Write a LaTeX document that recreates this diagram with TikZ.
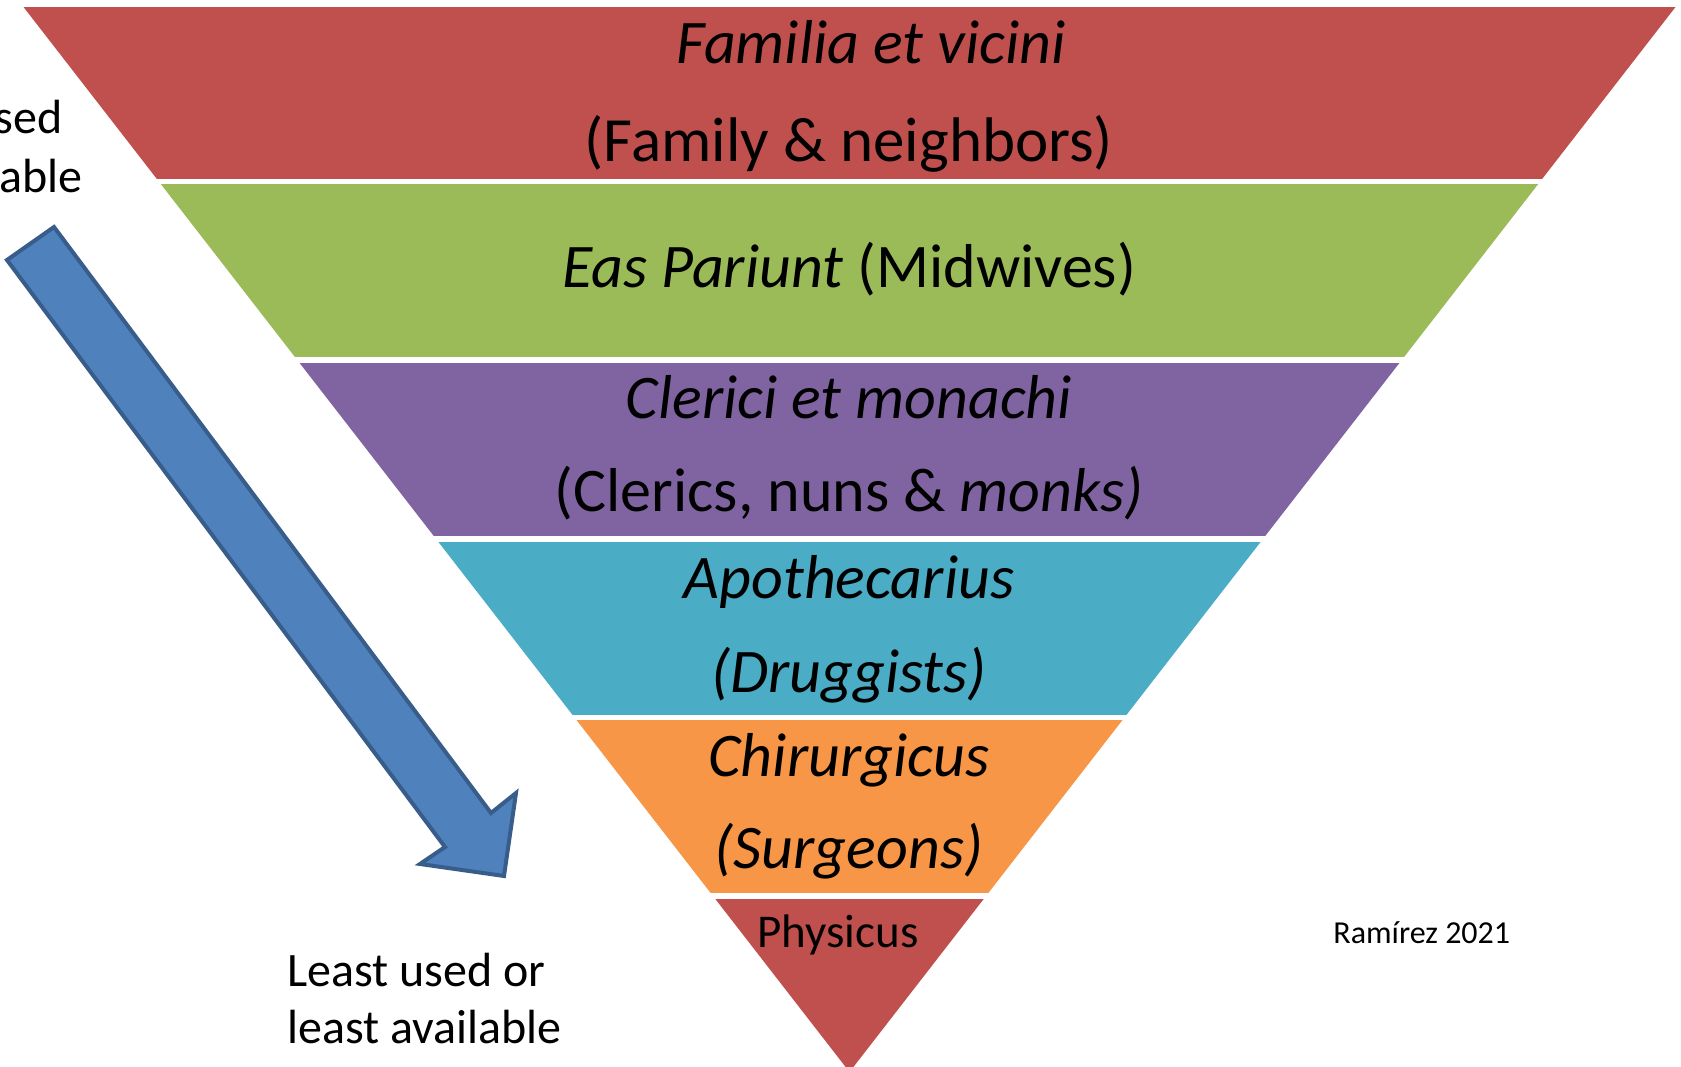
\documentclass[tikz,border=0pt]{standalone}
\usepackage{fontspec}
\setmainfont{Carlito}
\definecolor{bandred}{HTML}{C0504D}
\definecolor{bandgreen}{HTML}{9BBB59}
\definecolor{bandpurple}{HTML}{8064A2}
\definecolor{bandcyan}{HTML}{4BACC6}
\definecolor{bandorange}{HTML}{F79646}
\definecolor{arrowfill}{HTML}{4F81BD}
\definecolor{arrowline}{HTML}{385D8A}
\tikzset{
  bandtext/.style={anchor=base, inner sep=0pt, font=\fontsize{31}{31}\selectfont},
  sidetext/.style={inner sep=0pt, font=\fontsize{24}{24}\selectfont},
  blockarrow/.style={fill=arrowfill, draw=arrowline, line width=2pt, line join=miter},
}

\begin{document}
\begin{tikzpicture}[x=0.5pt, y=-0.5pt]
  \useasboundingbox (0,0) rectangle (1681,1066);
  \begin{scope}
    \clip (23.5,7) -- (1675.5,7) -- (849.5,1072) -- cycle;
    \foreach \col/\top/\bot in {bandred/7/179, bandgreen/184/357, bandpurple/363/536,
                                bandcyan/542/715, bandorange/720/893, bandred/899/1080}
      \fill[\col] (0,\top) rectangle (1681,\bot);
  \end{scope}

  \node[bandtext] (fam1)  at (871,63)  {\itshape Familia et vicini};
  \node[bandtext, font=\fontsize{31.5}{31.5}\selectfont] (fam2) at (849,161) {(Family \& neighbors)};
  \node[bandtext] (mid)   at (849,287) {\textit{Eas Pariunt} (Midwives)};
  \node[bandtext] (cler1) at (849,418) {\itshape Clerici et monachi};
  \node[bandtext] (cler2) at (849,511) {(Clerics, nuns \& \textit{monks)}};
  \node[bandtext] (apo1)  at (849,598) {\itshape Apothecarius};
  \node[bandtext] (apo2)  at (849,692) {\itshape (Druggists)};
  \node[bandtext] (chir1) at (849,776) {\itshape Chirurgicus};
  \node[bandtext] (chir2) at (849,868) {\itshape (Surgeons)};
  \node[sidetext, anchor=base, font=\fontsize{23.5}{23.5}\selectfont] (phys) at (838,947) {Physicus};

  \coordinate (tailtop)   at (54,227);
  \coordinate (tailleft)  at (7,260);
  \coordinate (neckleft)  at (445,847);
  \coordinate (wingleft)  at (420,864);
  \coordinate (tip)       at (504,876);
  \coordinate (wingright) at (516,793);
  \coordinate (neckright) at (491,813);
  \draw[blockarrow] (tailtop) -- (tailleft) -- (neckleft) -- (wingleft) -- (tip)
    -- (wingright) -- (neckright) -- cycle;

  \node[sidetext, anchor=base east] (most1) at (63,133) {sed};
  \node[sidetext, anchor=base east] (most2) at (83,192) {able};
  \node[sidetext, anchor=base west] (least1) at (287,986)  {Least used or};
  \node[sidetext, anchor=base west] (least2) at (287,1043) {least available};

  \node[anchor=base west, inner sep=0pt, font=\fontsize{16}{16}\selectfont] (cite) at (1333,943) {Ramírez 2021};
\end{tikzpicture}
\end{document}
